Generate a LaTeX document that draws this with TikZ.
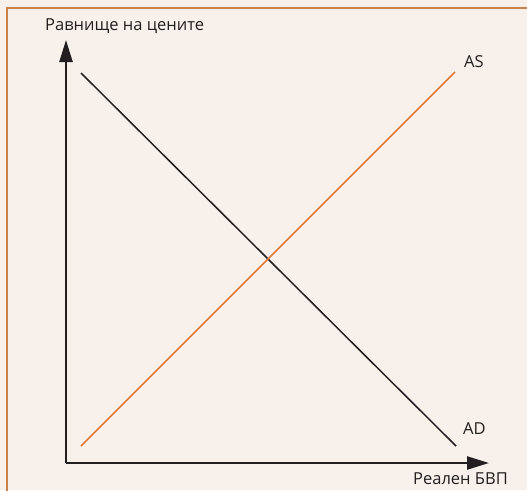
\documentclass[tikz,border=0pt]{standalone}
\usepackage{fontspec}
\setmainfont{Open Sans}
\usetikzlibrary{arrows.meta}
\definecolor{framecol}{HTML}{C8824A}
\definecolor{bgcol}{HTML}{F8F1EB}
\definecolor{ascol}{HTML}{E07B3C}
\definecolor{inkcol}{HTML}{231F20}

\begin{document}
\begin{tikzpicture}[x=1pt,y=-1pt,
  axis/.style={inkcol, line width=2.4pt, -{Triangle[length=22pt,width=13pt]}},
  curve/.style={line width=1.5pt},
  lbl/.style={inkcol, font=\fontsize{16.5}{19}\selectfont, inner sep=0pt}]
\useasboundingbox (0,0) rectangle (527,490);
\clip (0,0) rectangle (527,490);
\fill[bgcol] (0,0) rectangle (527,490);
\draw[framecol, line width=1.8pt] (7,8) rectangle (545,505);

\coordinate (O) at (66,463);
\coordinate (ytip) at (66,40);
\coordinate (xtip) at (489,463);
\draw[axis] (O) -- (ytip);
\draw[axis] (O) -- (xtip);

\coordinate (ad1) at (81,73);
\coordinate (ad2) at (456,446);
\coordinate (as1) at (81,446);
\coordinate (as2) at (455,72);
\draw[curve, inkcol] (ad1) -- (ad2);
\draw[curve, ascol] (as1) -- (as2);

\node[lbl, anchor=base west] (price) at (45,30) {Равнище на цените};
\node[lbl, anchor=base west] (aslbl) at (464,67) {AS};
\node[lbl, anchor=base west] (adlbl) at (463,434) {AD};
\node[lbl, anchor=base west] (gdp) at (413,484) {Реален БВП};
\end{tikzpicture}
\end{document}
